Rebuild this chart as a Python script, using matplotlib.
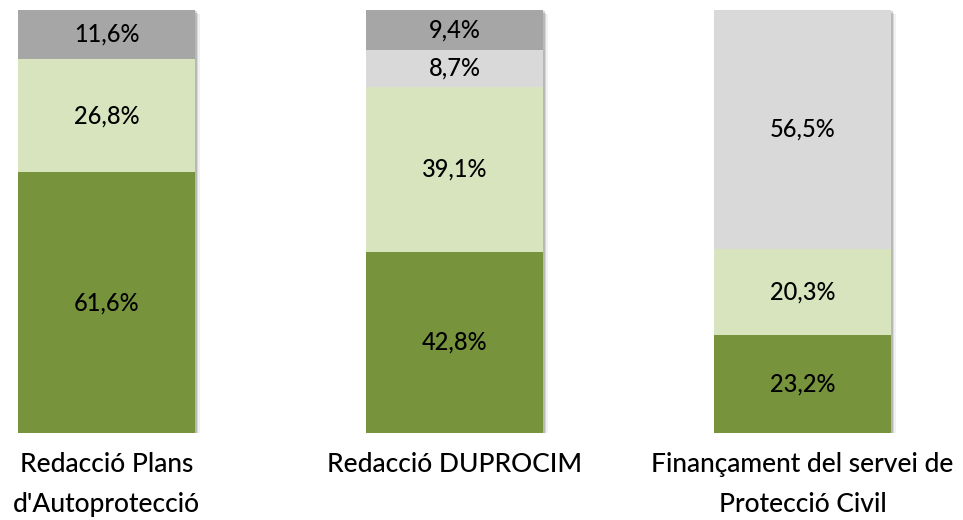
import matplotlib
matplotlib.use("Agg")
import matplotlib.pyplot as plt
import matplotlib.patheffects as pe
import numpy as np

categories = ["Redacció Plans\nd'Autoprotecció", "Redacció DUPROCIM",
              "Finançament del servei de\nProtecció Civil"]
series_names = ["Sí", "En part", "No", "NS/NC"]
dark_green = [61.6, 42.8, 23.2]
light_green = [26.8, 39.1, 20.3]
light_gray = [0.0, 8.7, 56.5]
dark_gray = [11.6, 9.4, 0.0]
series = [dark_green, light_green, light_gray, dark_gray]
colors = ["#77933C", "#D7E4BD", "#D9D9D9", "#A6A6A6"]

plt.rcParams['font.family'] = ['Lato', 'DejaVu Sans']

W, H = 963, 520
fig = plt.figure(figsize=(W / 100, H / 100), dpi=100)
unit = 348.0
c0 = 106.5
ax = fig.add_axes([0, (H - 433) / H, 1, 423 / H])
ax.set_xlim(-c0 / unit, (W - c0) / unit)
ax.set_ylim(0, 100)

x = np.arange(len(categories))
bottom = np.zeros(len(categories))
for vals, col in zip(series, colors):
    vals = np.array(vals)
    bars = ax.bar(x, vals, width=177 / unit, bottom=bottom, color=col,
                  edgecolor='none', zorder=2)
    for b, v, bt in zip(bars, vals, bottom):
        if v > 0:
            ax.text(b.get_x() + b.get_width() / 2, bt + v / 2,
                    f"{v:.1f}%".replace('.', ','), ha='center', va='center',
                    fontsize=17, fontweight='medium', color='black', zorder=3)
    bottom += vals

# soft shadow behind full stacks
for xi, tot in zip(x, bottom):
    for k, a in [(1, 0.25), (2, 0.15), (3, 0.08)]:
        r = plt.Rectangle((xi - 177 / unit / 2, 0), 177 / unit, tot,
                          facecolor='white', edgecolor='none', zorder=1,
                          path_effects=[pe.SimplePatchShadow(offset=(k + 0.5, -k), shadow_rgbFace='#555555', alpha=a)])
        ax.add_patch(r)

ax.set_xticks(x)
ax.set_xticklabels(categories, fontsize=19, fontweight='medium', linespacing=1.75)
ax.tick_params(axis='x', length=0, pad=14)
ax.set_yticks([])
for s in ax.spines.values():
    s.set_visible(False)

fig.savefig("out.png", dpi=100)
